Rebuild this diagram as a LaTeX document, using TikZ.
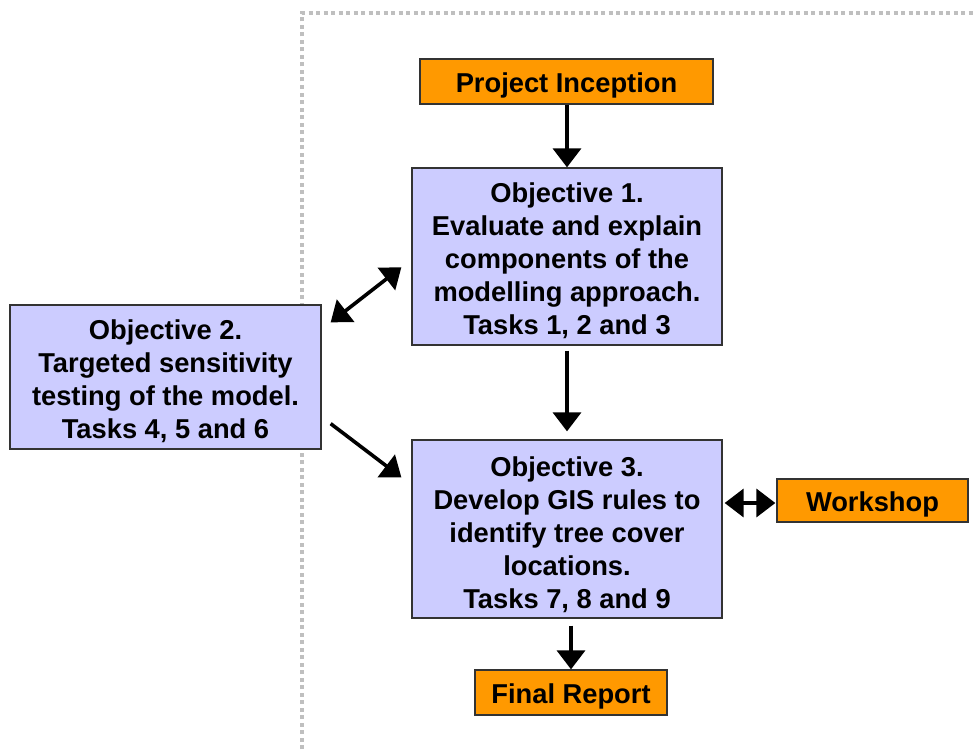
\documentclass[tikz,border=0pt]{standalone}
\usepackage{fontspec}
\setmainfont{Liberation Sans}
\usetikzlibrary{arrows.meta}
\definecolor{boxorange}{HTML}{FF9900}
\definecolor{boxlav}{HTML}{CCCCFF}
\definecolor{framegray}{HTML}{BFBFBF}
\tikzset{
  base/.style={draw=black!80, line width=1.3pt, inner sep=0pt},
  orangebox/.style={base, fill=boxorange},
  lavbox/.style={base, fill=boxlav},
  lbl/.style={inner sep=0pt, align=center, font=\fontsize{27.3}{33}\selectfont\bfseries},
  arr/.style={line width=3.6pt, -{Triangle[width=28pt,length=19pt]}},
  darr/.style={line width=3.6pt, {Triangle[width=28pt,length=19pt]}-{Triangle[width=28pt,length=19pt]}},
}
\begin{document}
\begin{tikzpicture}[x=1pt,y=-1pt]
\useasboundingbox (0,0) rectangle (976,749);
% dotted frame
\coordinate (fa) at (302,749);
\coordinate (fb) at (302,13);
\coordinate (fc) at (976,13);
\draw[framegray, line width=4pt, dash pattern=on 4pt off 3.5pt] (fa) -- (fb) -- (fc);
% boxes
\node[orangebox, minimum width=293pt, minimum height=45pt] (inc) at (566.5,81.5) {};
\node[lavbox, minimum width=310pt, minimum height=177pt] (obj1) at (567,256.5) {};
\node[lavbox, minimum width=311pt, minimum height=144pt] (obj2) at (165.5,377) {};
\node[lavbox, minimum width=310pt, minimum height=178pt] (obj3) at (567,529) {};
\node[orangebox, minimum width=191pt, minimum height=43pt] (ws) at (872.5,500.5) {};
\node[orangebox, minimum width=192pt, minimum height=45pt] (fin) at (571,692.5) {};
% texts
\node[lbl] (inct) at ([yshift=-4pt]inc.center) {Project Inception};
\node[lbl] (obj1t) at ([yshift=-4pt]obj1.center)
  {Objective 1.\\Evaluate and explain\\components of the\\modelling approach.\\Tasks 1, 2 and 3};
\node[lbl] (obj2t) at ([yshift=-4pt]obj2.center)
  {Objective 2.\\Targeted sensitivity\\testing of the model.\\Tasks 4, 5 and 6};
\node[lbl] (obj3t) at ([yshift=-6pt]obj3.center)
  {Objective 3.\\Develop GIS rules to\\identify tree cover\\locations.\\Tasks 7, 8 and 9};
\node[lbl] (wst) at ([yshift=-4pt]ws.center) {Workshop};
\node[lbl] (fint) at ([yshift=-4pt]fin.center) {Final Report};
% connectors
\draw[arr] (inc.south -| obj1.north) -- (obj1.north);
\draw[arr, shorten <=5pt, shorten >=8pt] (obj1.south) -- (obj3.north);
\draw[darr] ([xshift=9pt,yshift=-18pt]obj2.north east) -- ([xshift=-10pt,yshift=-100pt]obj1.north west);
\draw[arr] ([xshift=9pt,yshift=26pt]obj2.south east) -- ([xshift=-10pt,yshift=-38pt]obj3.north west);
\draw[darr, shorten <=2pt, shorten >=1pt] ([yshift=-2.5pt]obj3.east |- ws.west) -- ([yshift=-2.5pt]ws.west);
\draw[arr, shorten <=7pt] (obj3.south -| fin.north) -- (fin.north);
\end{tikzpicture}
\end{document}
